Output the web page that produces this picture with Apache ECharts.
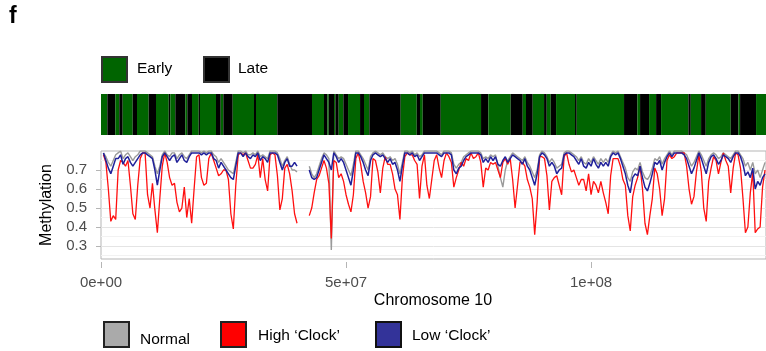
<!DOCTYPE html>
<html>
<head>
<meta charset="utf-8">
<script src="https://cdn.jsdelivr.net/npm/echarts@6/dist/echarts.min.js"></script>
<style>
  html, body { margin: 0; padding: 0; background: #fff; }
  #chart { width: 766px; height: 351px; }
</style>
</head>
<body>
<div id="chart"></div>
<script>
// Chromosome 10 replication timing domains and smoothed methylation profiles
const chromLengthMb = 135.7;
const binMb = 0.5;                       // methylation values are 0.5 Mb bins
const xTicks = [0, 5e7, 1e8];
const yTicks = [0.3, 0.4, 0.5, 0.6, 0.7];
const yMinorTicks = [0.25, 0.35, 0.45, 0.55, 0.65, 0.75];

// Replication timing domains (start positions in Mb, timing of each domain)
const domainStartMb = [
  0, 1.29, 2.92, 3.73, 4.43, 6.47, 7.35, 9.73, 11.22, 13.82, 14.14, 15.16, 17.20, 17.61,
  18.57, 19.94, 20.20, 23.47, 24.43, 24.96, 26.88, 31.22, 31.63, 35.98, 43.06, 45.51,
  46.18, 46.47, 47.55, 47.82, 48.51, 49.45, 50.41, 52.86, 53.67, 54.76, 61.16, 64.43,
  65.10, 65.65, 69.33, 77.55, 79.04, 83.61, 86.06, 86.73, 88.10, 90.41, 90.96, 91.78,
  92.86, 96.73, 97.08, 106.73, 109.45, 110.00, 111.84, 113.27, 114.29, 119.86, 120.35,
  122.45, 123.41, 128.51, 130.06, 130.41, 133.67
];
const domainTiming = [
  'Early','Late','Early','Late','Early','Late','Early','Late','Early','Late','Early','Late',
  'Early','Late','Early','Late','Early','Late','Early','Late','Early','Late','Early','Late',
  'Early','Late','Early','Late','Early','Late','Early','Late','Early','Late','Early','Late',
  'Early','Late','Early','Late','Early','Late','Early','Late','Early','Late','Early','Late',
  'Early','Late','Early','Late','Early','Late','Early','Late','Early','Late','Early','Late',
  'Early','Late','Early','Late','Early','Late','Early'
];

// Mean methylation per bin; null where there is no coverage (centromere)
const normalValues = [
  null,0.79,0.77,0.74,0.72,0.75,0.78,0.79,0.80,0.76,0.78,0.79,0.77,0.75,0.77,0.78,0.80,0.80,0.80,0.79,
  0.78,0.77,0.72,0.68,0.72,0.78,0.80,0.78,0.77,0.79,0.79,0.76,0.78,0.79,0.77,0.76,0.78,0.80,0.80,0.80,
  0.80,0.79,0.80,0.79,0.80,0.80,0.78,0.77,0.74,0.76,0.74,0.72,0.70,0.69,0.68,0.74,0.80,0.80,0.79,0.80,
  0.78,0.78,0.79,0.78,0.80,0.77,0.78,0.77,0.76,0.80,0.80,0.80,0.79,0.76,0.72,0.75,0.77,0.73,0.70,0.70,
  0.69,null,null,null,null,0.72,0.68,0.66,0.68,0.72,0.76,0.79,0.78,0.76,0.28,0.80,0.78,0.76,0.77,0.76,
  0.73,0.70,0.67,0.73,0.80,0.80,0.78,0.76,0.73,0.70,0.77,0.79,0.80,0.79,0.78,0.79,0.77,0.76,0.77,0.75,
  0.76,0.73,0.68,0.74,0.80,0.80,0.79,0.80,0.78,0.79,0.77,0.78,0.80,0.80,0.80,0.80,0.80,0.80,0.79,0.78,
  0.80,0.80,0.80,0.79,0.73,0.71,0.73,0.74,0.77,0.78,0.79,0.80,0.80,0.80,0.80,0.79,0.76,0.77,0.76,0.78,
  0.77,0.78,0.72,0.66,0.61,0.70,0.75,0.77,0.79,0.78,0.77,0.76,0.75,0.77,0.74,0.72,0.69,0.66,0.70,0.78,
  0.80,0.79,0.77,0.74,0.76,0.74,0.71,0.72,0.73,0.79,0.80,0.80,0.79,0.78,0.77,0.75,0.77,0.74,0.73,0.76,
  0.74,0.77,0.75,0.73,0.76,0.74,0.76,0.74,0.78,0.80,0.79,0.80,0.77,0.74,0.71,0.66,0.64,0.69,0.71,0.70,
  0.74,0.69,0.66,0.65,0.67,0.71,0.76,0.75,0.77,0.73,0.76,0.78,0.80,0.78,0.80,0.80,0.80,0.80,0.79,0.78,
  0.75,0.72,0.74,0.77,0.80,0.78,0.75,0.72,0.76,0.78,0.79,0.78,0.76,0.77,0.79,0.78,0.77,0.76,0.78,0.80,
  0.80,0.78,0.76,0.72,0.74,0.70,0.74,0.68,0.70,0.66,0.70,0.74
];
const highClockValues = [
  null,0.78,0.74,0.60,0.43,0.46,0.44,0.70,0.75,0.74,0.72,0.75,0.62,0.47,0.44,0.62,0.76,0.79,0.79,0.57,
  0.50,0.63,0.49,0.37,0.55,0.72,0.79,0.74,0.66,0.62,0.63,0.53,0.48,0.50,0.61,0.45,0.55,0.42,0.60,0.77,
  0.78,0.66,0.62,0.63,0.76,0.79,0.75,0.71,0.67,0.68,0.70,0.70,0.65,0.47,0.39,0.62,0.78,0.79,0.78,0.79,
  0.75,0.71,0.71,0.73,0.78,0.66,0.76,0.65,0.59,0.78,0.79,0.78,0.67,0.49,0.55,0.71,0.73,0.68,0.59,0.47,
  0.42,null,null,null,null,0.46,0.50,0.58,0.65,0.67,0.71,0.75,0.71,0.63,0.34,0.75,0.74,0.66,0.68,0.64,
  0.57,0.52,0.48,0.57,0.76,0.79,0.73,0.64,0.58,0.50,0.56,0.76,0.75,0.69,0.58,0.71,0.77,0.73,0.73,0.68,
  0.60,0.57,0.44,0.66,0.77,0.79,0.78,0.78,0.75,0.73,0.55,0.72,0.78,0.62,0.55,0.65,0.75,0.78,0.71,0.66,
  0.75,0.79,0.77,0.74,0.61,0.66,0.70,0.74,0.72,0.76,0.75,0.79,0.76,0.77,0.79,0.74,0.61,0.71,0.70,0.74,
  0.73,0.74,0.70,0.66,0.74,0.76,0.73,0.76,0.65,0.50,0.62,0.74,0.74,0.72,0.65,0.61,0.55,0.36,0.53,0.77,
  0.77,0.76,0.67,0.49,0.64,0.66,0.67,0.62,0.57,0.77,0.79,0.73,0.69,0.70,0.66,0.62,0.65,0.65,0.59,0.68,
  0.57,0.64,0.62,0.58,0.64,0.58,0.53,0.47,0.67,0.76,0.76,0.76,0.72,0.65,0.62,0.46,0.38,0.56,0.62,0.66,
  0.72,0.60,0.42,0.36,0.46,0.55,0.71,0.68,0.60,0.46,0.55,0.75,0.78,0.76,0.77,0.79,0.79,0.79,0.79,0.72,
  0.60,0.52,0.56,0.69,0.78,0.69,0.50,0.43,0.64,0.71,0.77,0.75,0.68,0.74,0.79,0.75,0.72,0.58,0.71,0.79,
  0.78,0.71,0.55,0.37,0.40,0.58,0.69,0.37,0.39,0.40,0.61,0.70
];
const lowClockValues = [
  null,0.79,0.75,0.71,0.68,0.72,0.76,0.76,0.78,0.73,0.76,0.77,0.74,0.72,0.74,0.76,0.78,0.79,0.79,0.78,
  0.77,0.76,0.70,0.62,0.70,0.77,0.79,0.77,0.75,0.77,0.78,0.74,0.76,0.78,0.75,0.74,0.77,0.79,0.79,0.79,
  0.79,0.78,0.79,0.78,0.79,0.79,0.76,0.75,0.71,0.74,0.72,0.70,0.68,0.66,0.65,0.72,0.79,0.79,0.77,0.79,
  0.77,0.76,0.78,0.77,0.79,0.75,0.77,0.76,0.74,0.79,0.79,0.79,0.78,0.74,0.70,0.74,0.76,0.72,0.72,0.74,
  0.72,null,null,null,null,0.70,0.66,0.65,0.66,0.70,0.74,0.78,0.76,0.74,0.70,0.79,0.77,0.74,0.76,0.74,
  0.70,0.66,0.62,0.70,0.79,0.79,0.77,0.74,0.70,0.67,0.75,0.78,0.79,0.78,0.77,0.78,0.76,0.74,0.76,0.73,
  0.74,0.70,0.64,0.72,0.79,0.79,0.78,0.79,0.77,0.78,0.75,0.77,0.79,0.79,0.79,0.79,0.79,0.79,0.78,0.77,
  0.79,0.79,0.79,0.78,0.70,0.68,0.71,0.72,0.75,0.77,0.78,0.79,0.79,0.79,0.79,0.78,0.74,0.76,0.74,0.77,
  0.75,0.77,0.73,0.72,0.75,0.77,0.74,0.76,0.78,0.77,0.76,0.75,0.73,0.76,0.72,0.70,0.66,0.62,0.68,0.77,
  0.79,0.78,0.76,0.72,0.74,0.72,0.68,0.70,0.71,0.78,0.79,0.79,0.78,0.77,0.75,0.73,0.76,0.72,0.71,0.74,
  0.72,0.76,0.73,0.71,0.74,0.72,0.74,0.72,0.77,0.79,0.78,0.79,0.76,0.72,0.68,0.62,0.58,0.66,0.68,0.67,
  0.72,0.66,0.61,0.59,0.63,0.68,0.74,0.73,0.75,0.70,0.74,0.77,0.79,0.77,0.79,0.79,0.79,0.79,0.78,0.76,
  0.72,0.68,0.71,0.75,0.79,0.76,0.72,0.68,0.74,0.77,0.78,0.76,0.73,0.75,0.78,0.77,0.76,0.74,0.77,0.79,
  0.79,0.77,0.73,0.67,0.69,0.66,0.71,0.60,0.64,0.62,0.66,0.68
];

const MB = 1e6;
const timingColor = { Early: '#006400', Late: '#000000' };
const seriesColor = { normal: '#9a9a9a', high: '#ff1010', low: '#20209a' };

function toPoints(values) {
  return values.map((v, i) => [i * binMb * MB, v]);
}

const domainData = domainStartMb.map((s, i) => {
  const end = i + 1 < domainStartMb.length ? domainStartMb[i + 1] : chromLengthMb;
  return [s * MB, end * MB, domainTiming[i] === 'Early' ? 0 : 1];
});

function sciLabel(v) {
  if (v === 0) return '0e+00';
  const e = Math.floor(Math.log10(v));
  const m = +(v / Math.pow(10, e)).toFixed(2);
  return m + 'e+' + String(e).padStart(2, '0');
}

const FONT = '"Liberation Sans", Arial, sans-serif';
const frameColor = '#b5b5b5';
const labelColor = '#4d4d4d';

const chart = echarts.init(document.getElementById('chart'), null, { renderer: 'canvas' });

chart.setOption({
  animation: false,
  backgroundColor: '#ffffff',
  textStyle: { fontFamily: FONT },
  grid: [
    { left: 101, right: 0, top: 94, height: 41 },
    { left: 101, right: 0, top: 151, bottom: 92, show: true, borderColor: frameColor, borderWidth: 1, backgroundColor: 'transparent' }
  ],
  xAxis: [
    { gridIndex: 0, type: 'value', min: 0, max: chromLengthMb * MB, show: false },
    {
      gridIndex: 1, type: 'value', min: 0, max: chromLengthMb * MB, interval: 5e7, offset: 3,
      axisLine: { show: false },
      axisTick: { show: true, length: 6, customValues: xTicks, lineStyle: { color: frameColor } },
      axisLabel: { customValues: xTicks, formatter: sciLabel, color: labelColor, fontSize: 15, margin: 13, fontFamily: FONT },
      splitLine: { show: false }
    }
  ],
  yAxis: [
    { gridIndex: 0, type: 'value', min: 0, max: 1, show: false },
    {
      gridIndex: 1, type: 'value', min: 0.232, max: 0.8, offset: 3,
      axisLine: { show: false },
      axisTick: { show: true, length: 5, customValues: yTicks, lineStyle: { color: frameColor } },
      axisLabel: { customValues: yTicks, formatter: v => v.toFixed(1), color: labelColor, fontSize: 15, margin: 11, fontFamily: FONT },
      splitLine: { show: true, lineStyle: { color: '#e4e4e4', width: 1 } }
    },
    {
      gridIndex: 1, type: 'value', min: 0.232, max: 0.8,
      axisLine: { show: false },
      axisTick: { show: false, customValues: yMinorTicks },
      axisLabel: { show: false },
      splitLine: { show: true, lineStyle: { color: '#f2f2f2', width: 1 } }
    }
  ],
  series: [
    {
      name: 'Replication timing', type: 'custom', xAxisIndex: 0, yAxisIndex: 0,
      data: domainData,
      encode: { x: [0, 1] },
      renderItem: (params, api) => {
        const a = api.coord([api.value(0), 1]);
        const b = api.coord([api.value(1), 0]);
        return {
          type: 'rect',
          shape: { x: a[0], y: a[1], width: b[0] - a[0], height: b[1] - a[1] },
          style: { fill: api.value(2) === 0 ? timingColor.Early : timingColor.Late }
        };
      }
    },
    {
      name: 'Normal', type: 'line', xAxisIndex: 1, yAxisIndex: 1,
      data: toPoints(normalValues), showSymbol: false, connectNulls: false,
      lineStyle: { color: seriesColor.normal, width: 1.4 }, itemStyle: { color: seriesColor.normal }
    },
    {
      name: 'High \u2018Clock\u2019', type: 'line', xAxisIndex: 1, yAxisIndex: 1,
      data: toPoints(highClockValues), showSymbol: false, connectNulls: false,
      lineStyle: { color: seriesColor.high, width: 1.3 }, itemStyle: { color: seriesColor.high }
    },
    {
      name: 'Low \u2018Clock\u2019', type: 'line', xAxisIndex: 1, yAxisIndex: 1,
      data: toPoints(lowClockValues), showSymbol: false, connectNulls: false,
      lineStyle: { color: seriesColor.low, width: 1.5 }, itemStyle: { color: seriesColor.low }
    }
  ],
  graphic: [
    { type: 'text', left: 9, top: 5, style: { text: 'f', font: 'bold 23px ' + FONT, fill: '#000' } },
    // timing legend
    { type: 'rect', shape: { x: 102, y: 57, width: 25, height: 25 }, style: { fill: timingColor.Early, stroke: '#333', lineWidth: 2 } },
    { type: 'text', x: 137, y: 69, style: { text: 'Early', font: '15.5px ' + FONT, fill: '#000', verticalAlign: 'middle' } },
    { type: 'rect', shape: { x: 204, y: 57, width: 25, height: 25 }, style: { fill: timingColor.Late, stroke: '#333', lineWidth: 2 } },
    { type: 'text', x: 238, y: 69, style: { text: 'Late', font: '15.5px ' + FONT, fill: '#000', verticalAlign: 'middle' } },
    // axis titles
    { type: 'text', x: 433, y: 301, style: { text: 'Chromosome 10', font: '16px ' + FONT, fill: '#000', align: 'center', verticalAlign: 'middle' } },
    { type: 'text', x: 47, y: 205, rotation: Math.PI / 2, style: { text: 'Methylation', font: '16px ' + FONT, fill: '#000', align: 'center', verticalAlign: 'middle' } },
    // group legend
    { type: 'rect', shape: { x: 104, y: 322, width: 25, height: 25 }, style: { fill: '#aaaaaa', stroke: '#222', lineWidth: 2 } },
    { type: 'text', x: 140, y: 340, style: { text: 'Normal', font: '15.5px ' + FONT, fill: '#000', verticalAlign: 'middle' } },
    { type: 'rect', shape: { x: 221, y: 322, width: 25, height: 25 }, style: { fill: '#ff0000', stroke: '#222', lineWidth: 2 } },
    { type: 'text', x: 258, y: 336, style: { text: 'High \u2018Clock\u2019', font: '15.5px ' + FONT, fill: '#000', verticalAlign: 'middle' } },
    { type: 'rect', shape: { x: 376, y: 322, width: 25, height: 25 }, style: { fill: '#333399', stroke: '#111', lineWidth: 2 } },
    { type: 'text', x: 412, y: 336, style: { text: 'Low \u2018Clock\u2019', font: '15.5px ' + FONT, fill: '#000', verticalAlign: 'middle' } }
  ]
});
</script>
</body>
</html>
